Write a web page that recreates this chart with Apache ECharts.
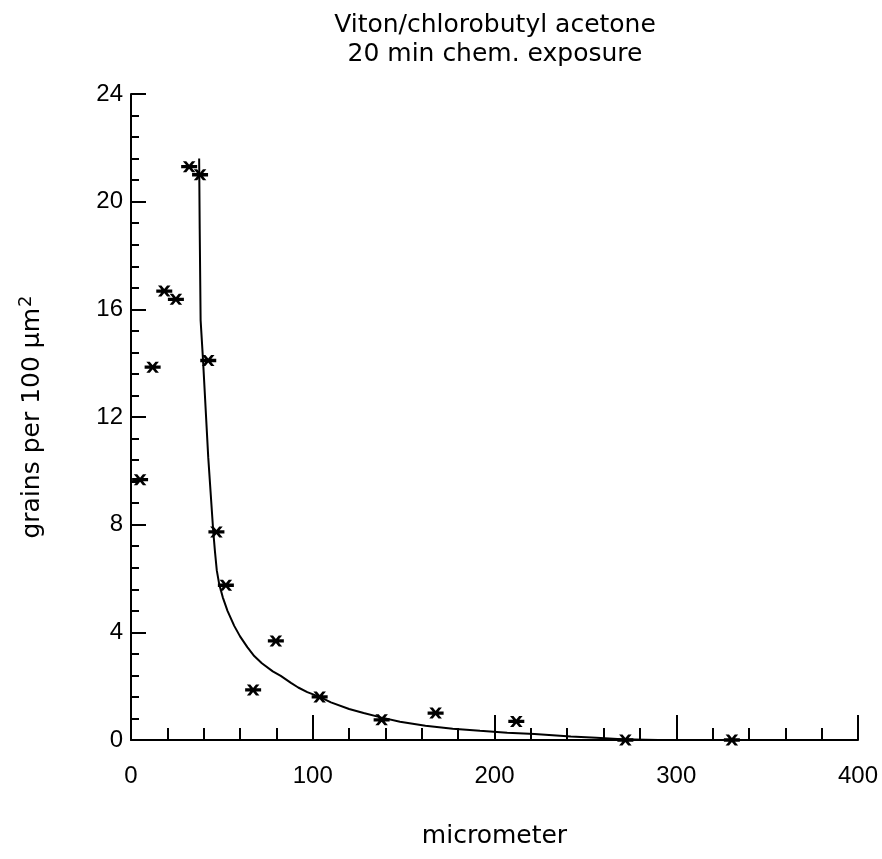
<!DOCTYPE html>
<html>
<head>
<meta charset="utf-8">
<script src="https://cdn.jsdelivr.net/npm/echarts@6/dist/echarts.min.js"></script>
<style>html,body{margin:0;padding:0;background:#fff}#c{width:882px;height:859px}</style>
</head>
<body>
<div id="c"></div>
<script>
// Measured points (micrometer, grains per 100 µm²)
const pointX = [5, 11.9, 18.3, 24.7, 32, 38, 42.5, 47, 52.2, 67.2, 79.7, 103.8, 137.9, 167.6, 212, 272, 330.6];
const pointY = [9.67, 13.85, 16.68, 16.37, 21.3, 21.0, 14.1, 7.73, 5.75, 1.86, 3.68, 1.6, 0.75, 1.0, 0.69, 0, 0];
// Fitted curve
const curveX = [37.5, 37.8, 38.3, 39.6, 42.5, 45.2, 46.2, 47.2, 48.5, 50.5, 53.1, 56.8, 60, 64, 67.8, 72, 78, 82.4, 88, 92, 97, 103.8, 110, 120, 128, 137.4, 148, 162, 177, 192, 207, 222, 242, 256, 270, 290];
const curveY = [21.6, 19, 15.6, 14.15, 10.5, 7.8, 7.0, 6.3, 5.8, 5.3, 4.8, 4.24, 3.85, 3.45, 3.12, 2.85, 2.55, 2.38, 2.12, 1.95, 1.78, 1.6, 1.4, 1.15, 1.0, 0.84, 0.68, 0.53, 0.42, 0.34, 0.27, 0.22, 0.13, 0.08, 0.03, 0];
const xTicks = [0, 100, 200, 300, 400];
const yTicks = [0, 4, 8, 12, 16, 20, 24];
const titleLines = ['Viton/chlorobutyl acetone', '20 min chem. exposure'];

const FONT = 'DejaVu Sans';
const NUMFONT = 'Liberation Sans';
const starPath = 'path://M0 3.5 L14 3.5 L14 6.5 L0 6.5 Z M1.5 0 L4.5 0 L12.5 10 L9.5 10 Z M9.5 0 L12.5 0 L4.5 10 L1.5 10 Z';

const chart = echarts.init(document.getElementById('c'), null, {renderer: 'canvas'});
chart.setOption({
  backgroundColor: '#fff',
  animation: false,
  title: {
    text: titleLines.join('\n'),
    left: 490, top: 6, textAlign: 'center',
    textStyle: {fontFamily: FONT, fontSize: 25, fontWeight: 'normal', color: '#000', lineHeight: 29}
  },
  grid: {left: 131, right: 24, top: 94, bottom: 119},
  xAxis: {
    type: 'value', min: xTicks[0], max: xTicks[xTicks.length - 1], interval: 100,
    name: 'micrometer', nameLocation: 'middle', nameGap: 84,
    nameTextStyle: {fontFamily: FONT, fontSize: 25, color: '#000'},
    axisLine: {show: true, lineStyle: {color: '#000', width: 2}},
    axisTick: {show: true, inside: true, length: 25, lineStyle: {color: '#000', width: 2}},
    minorTick: {show: true, splitNumber: 5, length: 12, lineStyle: {color: '#000', width: 2}},
    axisLabel: {fontFamily: NUMFONT, fontSize: 24, color: '#000', margin: 24},
    splitLine: {show: false}
  },
  yAxis: {
    type: 'value', min: yTicks[0], max: yTicks[yTicks.length - 1], interval: 4,
    name: '{a|grains per 100 µm}{s|2}', nameLocation: 'middle', nameGap: 84, nameRotate: 90,
    nameTextStyle: {
      fontFamily: FONT, fontSize: 25, color: '#000',
      rich: {
        a: {fontFamily: FONT, fontSize: 25, color: '#000'},
        s: {fontFamily: FONT, fontSize: 18, color: '#000', verticalAlign: 'top', padding: [0, 0, 12, 1]}
      }
    },
    axisLine: {show: true, lineStyle: {color: '#000', width: 2}},
    axisTick: {show: true, inside: true, length: 15, lineStyle: {color: '#000', width: 2}},
    minorTick: {show: true, splitNumber: 5, length: 8, lineStyle: {color: '#000', width: 2}},
    axisLabel: {fontFamily: NUMFONT, fontSize: 24, color: '#000', margin: 8},
    splitLine: {show: false}
  },
  series: [
    {
      type: 'line',
      data: curveX.map((x, i) => [x, curveY[i]]),
      showSymbol: false, smooth: false,
      lineStyle: {color: '#000', width: 2},
      z: 2
    },
    {
      type: 'scatter',
      data: pointX.map((x, i) => [x, pointY[i]]),
      symbol: starPath, symbolSize: [16, 11],
      itemStyle: {color: '#000', opacity: 1},
      z: 3
    }
  ]
});
</script>
</body>
</html>
